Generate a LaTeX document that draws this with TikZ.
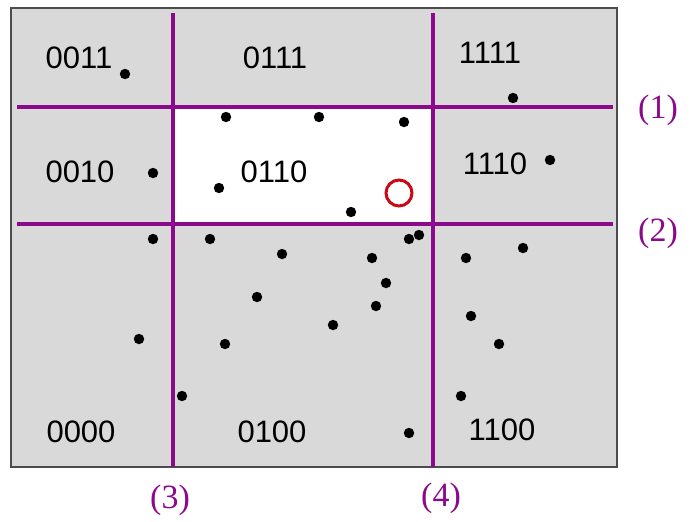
\documentclass[tikz,border=0pt]{standalone}
\usepackage{fontspec}
\setmainfont{Liberation Serif}
\newfontfamily\codefont{Liberation Sans}
\usepackage{xcolor}
\definecolor{lila}{RGB}{139,10,139}
\definecolor{rojo}{RGB}{200,10,20}

\begin{document}
\begin{tikzpicture}[x=0.5pt,y=-0.5pt,
  corte/.style={draw=lila,line width=2pt},
  codigo/.style={font=\codefont\fontsize{15.5}{18}\selectfont},
  etiqueta/.style={text=lila,font=\fontsize{17}{20}\selectfont}]
  \useasboundingbox (0,0) rectangle (695,521);
  % zona y celda consultada
  \filldraw[fill=gray!30,draw=black!70,line width=0.6pt] (11,8) rectangle (617,467);
  \fill[white] (173,107) rectangle (433,224);
  % lineas de corte
  \coordinate (h1a) at (17,107); \coordinate (h1b) at (613,107);
  \coordinate (h2a) at (17,224); \coordinate (h2b) at (613,224);
  \coordinate (v3a) at (173,13); \coordinate (v3b) at (173,467);
  \coordinate (v4a) at (433,13); \coordinate (v4b) at (433,467);
  \draw[corte] (h1a) -- (h1b);
  \draw[corte] (h2a) -- (h2b);
  \draw[corte] (v3a) -- (v3b);
  \draw[corte] (v4a) -- (v4b);
  \node[etiqueta] (l1) at (658,110) {(1)};
  \node[etiqueta] (l2) at (658,233) {(2)};
  \node[etiqueta] (l3) at (170,500) {(3)};
  \node[etiqueta] (l4) at (441,498) {(4)};
  % codigos de las celdas
  \node[codigo] (c0011) at (79,58) {0011};
  \node[codigo] (c0111) at (275,58) {0111};
  \node[codigo] (c1111) at (490,53) {1111};
  \node[codigo] (c0010) at (80,172) {0010};
  \node[codigo] (c0110) at (274,172) {0110};
  \node[codigo] (c1110) at (495,164) {1110};
  \node[codigo] (c0000) at (81,432) {0000};
  \node[codigo] (c0100) at (272,432) {0100};
  \node[codigo] (c1100) at (502,430) {1100};
  % puntos
  \foreach \px/\py in {125/74, 513/98, 226/117, 319/117, 404/122, 550/160,
      153/173, 219/188, 351/212, 153/239, 210/239, 282/254, 409/239, 419/235,
      372/258, 466/258, 523/248, 386/283, 257/297, 376/306, 471/316, 333/325,
      139/339, 225/344, 499/344, 182/396, 461/396, 409/433}
    \fill (\px,\py) circle (2.6pt);
  % punto de consulta
  \node[draw=rojo,line width=1.5pt,circle,minimum size=13pt,inner sep=0pt] (q) at (399,193) {};
\end{tikzpicture}
\end{document}
